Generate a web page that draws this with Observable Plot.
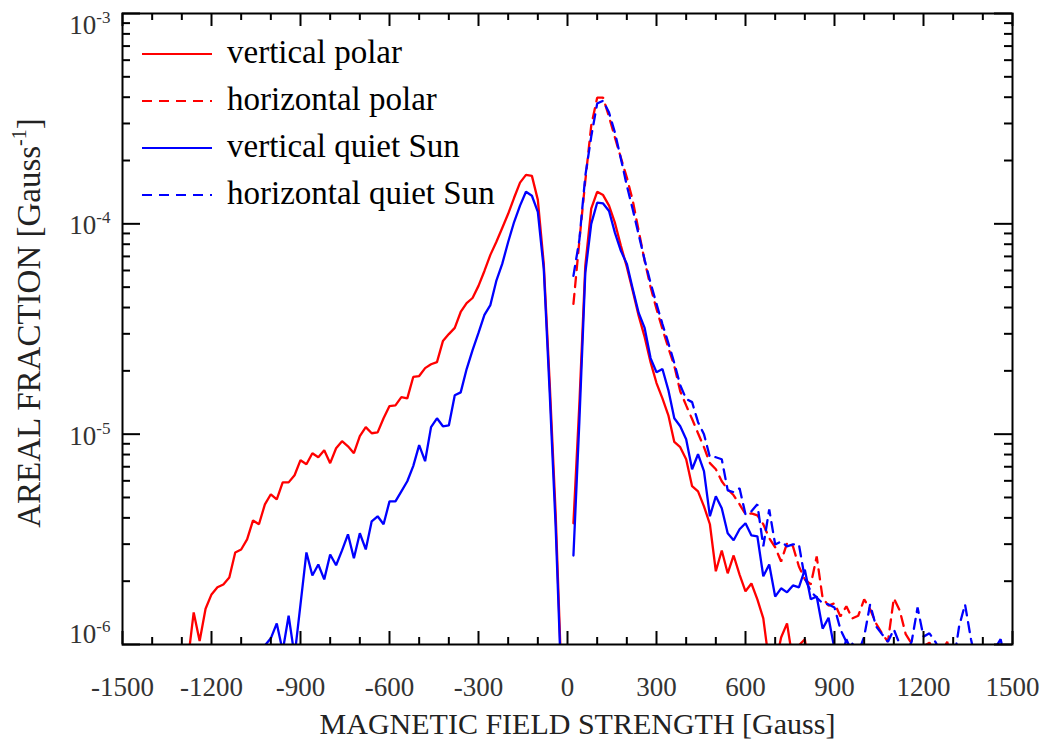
<!DOCTYPE html>
<html>
<head>
<meta charset="utf-8">
<script src="https://cdn.jsdelivr.net/npm/d3@7"></script>
<script src="https://cdn.jsdelivr.net/npm/@observablehq/plot@0.6"></script>
<style>
  html, body { margin: 0; padding: 0; background: #fff; }
  #chart { width: 1046px; height: 746px; }
</style>
</head>
<body>
<div id="chart"></div>
<script>
// Magnetic field strength bins [Gauss]
const fieldNeg = [-1280,-1260,-1240,-1220,-1200,-1180,-1160,-1140,-1120,-1100,-1080,-1060,-1040,-1020,-1000,-980,-960,-940,-920,-900,-880,-860,-840,-820,-800,-780,-760,-740,-720,-700,-680,-660,-640,-620,-600,-580,-560,-540,-520,-500,-480,-460,-440,-420,-400,-380,-360,-340,-320,-300,-280,-260,-240,-220,-200,-180,-160,-140,-120,-100,-80,-60,-40,-20];
const fieldPos = [20,40,60,80,100,120,140,160,180,200,220,240,260,280,300,320,340,360,380,400,420,440,460,480,500,520,540,560,580,600,620,640,660,680,700,720,740,760,780,800,820,840,860,880,900,920,940,960,980,1000,1020,1040,1060,1080,1100,1120,1140,1160,1180,1200,1220,1240,1260,1280,1300,1320,1340,1360,1380,1400,1420,1440,1460,1480];

// Areal fraction [Gauss^-1], vertical field, negative polarity (ends at -20 G)
const verticalPolarNeg = [8.3e-7,1.42e-6,1.04e-6,1.48e-6,1.73e-6,1.87e-6,1.93e-6,2.08e-6,2.74e-6,2.83e-6,3.16e-6,3.89e-6,3.73e-6,4.64e-6,5.18e-6,4.90e-6,5.90e-6,5.90e-6,6.38e-6,7.52e-6,7.20e-6,8.12e-6,7.77e-6,8.38e-6,7.28e-6,8.57e-6,9.26e-6,8.76e-6,8.12e-6,9.78e-6,1.08e-5,1.01e-5,1.02e-5,1.19e-5,1.36e-5,1.37e-5,1.50e-5,1.48e-5,1.87e-5,1.89e-5,2.06e-5,2.15e-5,2.20e-5,2.77e-5,2.99e-5,3.20e-5,3.81e-5,4.20e-5,4.44e-5,5.07e-5,5.97e-5,7.12e-5,8.20e-5,9.56e-5,1.116e-4,1.33e-4,1.57e-4,1.71e-4,1.69e-4,1.30e-4,6.45e-5,1.75e-5,4.20e-6,6.7e-7];
const verticalQuietNeg = [6.7e-7,9.9e-7,1.07e-6,1.26e-6,9.3e-7,1.37e-6,8.8e-7,1.55e-6,2.74e-6,2.13e-6,2.40e-6,2.04e-6,2.68e-6,2.38e-6,2.80e-6,3.34e-6,2.57e-6,3.38e-6,2.83e-6,3.85e-6,4.07e-6,3.73e-6,4.79e-6,4.79e-6,5.35e-6,5.97e-6,7.05e-6,8.87e-6,7.44e-6,1.08e-5,1.19e-5,1.09e-5,1.10e-5,1.53e-5,1.58e-5,2.04e-5,2.51e-5,3.03e-5,3.69e-5,4.11e-5,5.35e-5,6.45e-5,8.20e-5,1.02e-4,1.22e-4,1.42e-4,1.36e-4,1.14e-4,6.1e-5,1.57e-5,3.65e-6,6.0e-7];

// Positive side (starts at +20 G)
const verticalPolarPos = [3.77e-6,1.39e-5,6.31e-5,1.18e-4,1.42e-4,1.37e-4,1.22e-4,1.01e-4,7.86e-5,6.23e-5,4.79e-5,3.65e-5,2.90e-5,2.20e-5,1.75e-5,1.48e-5,1.23e-5,9.19e-6,8.67e-6,7.60e-6,5.66e-6,5.35e-6,4.54e-6,3.73e-6,2.23e-6,2.80e-6,2.18e-6,2.65e-6,2.15e-6,1.79e-6,1.95e-6,1.64e-6,1.33e-6,8.1e-7,7.9e-7,1.08e-6,1.26e-6,8.3e-7,9.9e-7,1.06e-6,6.7e-7];
const verticalQuietPos = [2.65e-6,1.15e-5,5.84e-5,1.00e-4,1.26e-4,1.25e-4,1.15e-4,9.06e-5,7.44e-5,6.45e-5,4.90e-5,3.77e-5,3.20e-5,2.30e-5,1.97e-5,2.04e-5,1.62e-5,1.19e-5,1.09e-5,9.46e-6,6.81e-6,8.03e-6,6.67e-6,4.07e-6,5.07e-6,4.44e-6,3.38e-6,3.13e-6,3.53e-6,3.77e-6,3.30e-6,3.27e-6,2.11e-6,2.40e-6,1.69e-6,1.85e-6,1.77e-6,1.91e-6,1.87e-6,2.27e-6,1.64e-6,1.69e-6,1.19e-6,1.34e-6,9.5e-7,8.3e-7,1.06e-6,9.1e-7,6.7e-7];
const horizontalPolar = [4.16e-5,8.28e-5,1.60e-4,2.93e-4,3.98e-4,3.98e-4,3.23e-4,2.57e-4,2.06e-4,1.66e-4,1.29e-4,9.26e-5,6.67e-5,5.01e-5,3.94e-5,3.16e-5,2.57e-5,2.11e-5,1.60e-5,1.37e-5,1.18e-5,1.01e-5,8.67e-6,7.28e-6,6.81e-6,5.97e-6,5.47e-6,5.12e-6,4.64e-6,4.16e-6,4.20e-6,4.11e-6,3.73e-6,3.20e-6,2.90e-6,2.48e-6,3.03e-6,2.93e-6,2.35e-6,2.04e-6,1.93e-6,2.62e-6,1.66e-6,1.53e-6,1.57e-6,1.36e-6,1.52e-6,1.33e-6,1.37e-6,1.64e-6,1.47e-6,1.26e-6,1.13e-6,1.03e-6,1.66e-6,1.45e-6,1.12e-6,1.01e-6,9.1e-7,9.8e-7,1.02e-6,9.1e-7,9.1e-7,1.03e-6,7.9e-7];
const horizontalQuiet = [5.66e-5,8.39e-5,1.69e-4,2.60e-4,3.73e-4,3.85e-4,3.38e-4,2.71e-4,2.04e-4,1.52e-4,1.17e-4,8.87e-5,6.74e-5,5.24e-5,4.16e-5,3.34e-5,2.71e-5,2.18e-5,1.71e-5,1.47e-5,1.42e-5,1.14e-5,1.00e-5,7.77e-6,7.77e-6,7.60e-6,5.41e-6,5.30e-6,5.53e-6,4.16e-6,4.30e-6,4.64e-6,2.93e-6,4.39e-6,2.99e-6,3.09e-6,2.93e-6,2.99e-6,2.99e-6,2.06e-6,1.79e-6,1.67e-6,1.57e-6,1.55e-6,1.50e-6,1.18e-6,1.03e-6,1.01e-6,9.1e-7,1.09e-6,1.55e-6,1.22e-6,1.12e-6,1.03e-6,1.18e-6,1.00e-6,9.1e-7,1.03e-6,1.50e-6,1.09e-6,1.13e-6,1.03e-6,9.1e-7,9.5e-7,7.9e-7,1.22e-6,1.55e-6,1.06e-6,7.9e-7,7.4e-7,7.9e-7,9.5e-7,1.06e-6,7.9e-7];

// Axis ticks and labels
const xMajor = [-1500, -1200, -900, -600, -300, 0, 300, 600, 900, 1200, 1500];
const xMinor = d3.range(-1500, 1501, 100).filter(v => v % 300 !== 0);
const yMajor = [1e-6, 1e-5, 1e-4, 1e-3];
const yMajorLabels = ["10^{-6}", "10^{-5}", "10^{-4}", "10^{-3}"];
const yMinor = [1e-6, 1e-5, 1e-4].flatMap(d => d3.range(2, 10).map(k => k * d));

const xTitle = "MAGNETIC FIELD STRENGTH [Gauss]";
const yTitle = "AREAL FRACTION [Gauss^{-1}]";

const series = [
  {name: "vertical polar",         color: "#ff0000", dash: null,   parts: [[fieldNeg, verticalPolarNeg, "end"], [fieldPos, verticalPolarPos, "start"]]},
  {name: "horizontal polar",       color: "#ff0000", dash: "10,7", parts: [[fieldPos, horizontalPolar, "start"]]},
  {name: "vertical quiet Sun",     color: "#0000ff", dash: null,   parts: [[fieldNeg, verticalQuietNeg, "end"], [fieldPos, verticalQuietPos, "start"]]},
  {name: "horizontal quiet Sun",   color: "#0000ff", dash: "10,7", parts: [[fieldPos, horizontalQuiet, "start"]]}
];

function rowsOf(s) {
  const rows = [];
  s.parts.forEach(([fields, values, align], p) => {
    const off = align === "end" ? fields.length - values.length : 0;
    values.forEach((v, i) => rows.push({field: fields[off + i], value: v, part: p}));
  });
  return rows;
}

const W = 1046, H = 746;
const mL = 122, mR = 34, mT = 13, mB = 102;
const innerW = W - mL - mR, innerH = H - mT - mB;
const tickColor = "#000";
const labelColor = "#333";
const serif = "'Liberation Serif', 'Times New Roman', serif";

const lineMarks = series.map(s => Plot.line(rowsOf(s), {
  x: "field", y: "value", z: "part",
  stroke: s.color, strokeWidth: 2.3, strokeDasharray: s.dash,
  strokeLinejoin: "miter", clip: true
}));

const yLabelMark = (values, labels, dy) => Plot.text(values, {
  y: d => d, frameAnchor: "left", textAnchor: "end", dx: -12, dy,
  text: d => labels[yMajor.indexOf(d)], fontSize: 27, fill: labelColor
});

const plot = Plot.plot({
  width: W, height: H,
  marginLeft: mL, marginRight: mR, marginTop: mT, marginBottom: mB,
  style: {fontFamily: serif, background: "#fff", overflow: "visible"},
  x: {domain: [-1500, 1500], axis: null},
  y: {type: "log", domain: [1e-6, 1e-3], axis: null},
  marks: [
    ...lineMarks,
    // inward ticks on all four sides
    Plot.tickX(xMajor, {x: d => d, stroke: tickColor, strokeWidth: 2, insetTop: innerH - 13}),
    Plot.tickX(xMajor, {x: d => d, stroke: tickColor, strokeWidth: 2, insetBottom: innerH - 13}),
    Plot.tickX(xMinor, {x: d => d, stroke: tickColor, strokeWidth: 2, insetTop: innerH - 7}),
    Plot.tickX(xMinor, {x: d => d, stroke: tickColor, strokeWidth: 2, insetBottom: innerH - 7}),
    Plot.tickY(yMajor, {y: d => d, stroke: tickColor, strokeWidth: 2, insetRight: innerW - 18}),
    Plot.tickY(yMajor, {y: d => d, stroke: tickColor, strokeWidth: 2, insetLeft: innerW - 18}),
    Plot.tickY(yMinor, {y: d => d, stroke: tickColor, strokeWidth: 2, insetRight: innerW - 8}),
    Plot.tickY(yMinor, {y: d => d, stroke: tickColor, strokeWidth: 2, insetLeft: innerW - 8}),
    Plot.frame({stroke: "#000", strokeWidth: 2}),
    // tick labels
    Plot.text(xMajor, {x: d => d, frameAnchor: "bottom", lineAnchor: "top", dy: 32, text: d => String(d), fontSize: 27, fill: labelColor}),
    yLabelMark(yMajor.slice(1, 3), yMajorLabels, 2),
    yLabelMark([yMajor[3]], yMajorLabels, 12),
    yLabelMark([yMajor[0]], yMajorLabels, -10),
    // axis titles
    Plot.text([xTitle], {frameAnchor: "bottom", lineAnchor: "top", dy: 68, dx: 10, text: d => d, fontSize: 30, fill: "#222"}),
    Plot.text([yTitle], {frameAnchor: "left", textAnchor: "middle", lineAnchor: "middle", rotate: -90, dx: -93, dy: -6, text: d => d, fontSize: 33, fill: "#222"})
  ]
});

// Turn "^{...}" into raised, smaller tspans
function superscripts(svg) {
  svg.querySelectorAll("text").forEach(t => {
    const s = t.textContent;
    const m = s.match(/^(.*)\^\{(.*?)\}(.*)$/);
    if (!m) return;
    const size = parseFloat(t.closest("[font-size]")?.getAttribute("font-size")) || 27;
    t.textContent = "";
    const ns = "http://www.w3.org/2000/svg";
    const a = document.createElementNS(ns, "tspan"); a.textContent = m[1]; t.appendChild(a);
    const b = document.createElementNS(ns, "tspan");
    b.textContent = m[2];
    b.setAttribute("font-size", Math.round(size * 0.62));
    b.setAttribute("dy", -Math.round(size * 0.42));
    t.appendChild(b);
    if (m[3]) {
      const c = document.createElementNS(ns, "tspan");
      c.textContent = m[3];
      c.setAttribute("dy", Math.round(size * 0.42));
      t.appendChild(c);
    }
  });
}
superscripts(plot);

// Legend in the upper-left corner of the frame
const legend = d3.select(plot).append("g")
  .attr("font-family", serif)
  .attr("font-size", 33)
  .attr("text-anchor", "start");
series.forEach((s, i) => {
  const y = 54 + i * 47;
  legend.append("line")
    .attr("x1", 142).attr("x2", 212).attr("y1", y).attr("y2", y)
    .attr("stroke", s.color).attr("stroke-width", 2.2)
    .attr("stroke-dasharray", s.dash);
  legend.append("text")
    .attr("x", 227).attr("y", y + 9)
    .attr("fill", "#000")
    .text(s.name);
});

document.getElementById("chart").appendChild(plot);
</script>
</body>
</html>
